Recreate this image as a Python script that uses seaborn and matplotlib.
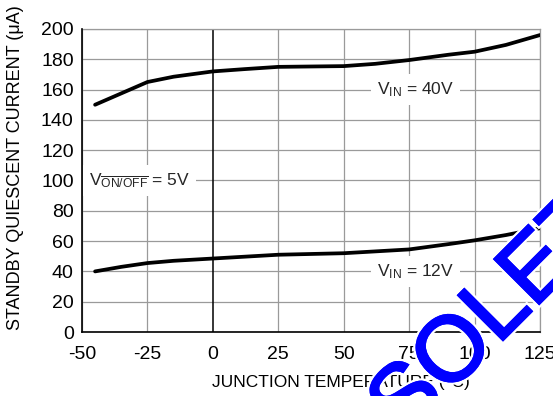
import matplotlib
matplotlib.use("Agg")
import matplotlib.pyplot as plt
import matplotlib.patheffects as pe
from matplotlib.textpath import TextPath
from matplotlib.patches import PathPatch
from matplotlib.font_manager import FontProperties
from matplotlib.transforms import Affine2D
import numpy as np
import seaborn as sns
import pandas as pd

# Data
temp_40v = [-45, -35, -25, -15, 0, 12, 25, 50, 62, 75, 90, 100, 112, 125]
iq_40v = [150, 157.5, 165, 168.5, 172, 173.5, 175, 175.5, 177, 179.5, 183, 185, 189.5, 196]
temp_12v = [-45, -35, -25, -15, 0, 25, 50, 75, 90, 100, 112, 125]
iq_12v = [40, 43, 45.5, 47, 48.5, 51, 52, 54.5, 58, 60.5, 64, 68.5]
x_ticks = [-50, -25, 0, 25, 50, 75, 100, 125]
y_ticks = [0, 20, 40, 60, 80, 100, 120, 140, 160, 180, 200]

sns.set_theme(style="white")
plt.rcParams['font.family'] = ['Liberation Sans', 'DejaVu Sans']
plt.rcParams['mathtext.fontset'] = 'custom'
plt.rcParams['mathtext.rm'] = 'Liberation Sans'
plt.rcParams['mathtext.it'] = 'Liberation Sans'
plt.rcParams['mathtext.bf'] = 'Liberation Sans:bold'
plt.rcParams['axes.unicode_minus'] = False

df = pd.concat([
    pd.DataFrame({"T": temp_40v, "I": iq_40v, "s": "40V"}),
    pd.DataFrame({"T": temp_12v, "I": iq_12v, "s": "12V"}),
])

fig = plt.figure(figsize=(5.53, 3.96), dpi=100)
ax = fig.add_axes([0.1483, 0.1616, 0.8282, 0.7652])

grid_c = "#9a9a9a"
for xv in x_ticks:
    if xv != 0:
        ax.axvline(xv, color=grid_c, lw=0.9, zorder=1)
for yv in y_ticks:
    ax.axhline(yv, color=grid_c, lw=0.9, zorder=1)
ax.axvline(0, color="black", lw=1.1, zorder=2)

sns.lineplot(data=df, x="T", y="I", units="s", estimator=None, color="black",
             lw=2.7, ax=ax, zorder=5, sort=False)

ax.set_xlim(-50, 125)
ax.set_ylim(0, 200)
ax.set_xticks(x_ticks)
ax.set_yticks(y_ticks)
ax.tick_params(axis="x", length=0, labelsize=14, colors="black", pad=10)
ax.tick_params(axis="y", length=0, labelsize=14, colors="black", pad=6)
for s in ["top", "right"]:
    ax.spines[s].set_color(grid_c)
    ax.spines[s].set_linewidth(0.9)
for s in ["left", "bottom"]:
    ax.spines[s].set_color("black")
    ax.spines[s].set_linewidth(1.2)
    ax.spines[s].set_zorder(6)

ax.set_xlabel("")
ax.set_ylabel("")
fig.text(341 / 553, 1 - 382 / 396, "JUNCTION TEMPERATURE (°C)", fontsize=12.5,
         ha="center", va="center", color="black")
fig.text(16 / 553, 1 - 168 / 396, "STANDBY QUIESCENT CURRENT (μA)", fontsize=13,
         ha="center", va="center", rotation=90, color="black")

bbox = dict(boxstyle="square,pad=0.35", fc="white", ec="none")
ax.text(77.5, 160, r"V$_{\mathrm{IN}}$ = 40V", fontsize=12.5, ha="center", va="center",
        bbox=bbox, zorder=4)
ax.text(77.5, 40, r"V$_{\mathrm{IN}}$ = 12V", fontsize=12.5, ha="center", va="center",
        bbox=bbox, zorder=4)
ax.text(-28, 100, r"V$_{\overline{\mathrm{ON/OFF}}}$ = 5V", fontsize=12.5, ha="center",
        va="center", bbox=bbox, zorder=4)

# Watermark placed in pixel space: outer corner of the "L" at (503, 340) from top-left
fp = FontProperties(family="Liberation Sans")
em = 92
tp = TextPath((0, 0), "OBSOLETE", size=em, prop=fp)
ext_obsol = TextPath((0, 0), "OBSOL", size=em, prop=fp).get_extents()
ext_l = TextPath((0, 0), "L", size=em, prop=fp).get_extents()
x_l = ext_obsol.x1 - (ext_l.x1 - ext_l.x0)
H = 396
px, py = 503, H - 340
c = np.cos(np.deg2rad(45))
aff = Affine2D().rotate_deg(45).translate(px - x_l * c, py - x_l * c)
wm = PathPatch(tp, transform=aff, facecolor="#0000ff", edgecolor="#0000ff",
               lw=1.6, zorder=20,
               path_effects=[pe.withStroke(linewidth=5, foreground="white"), pe.Normal()])
fig.add_artist(wm)
wm.set_transform(aff)

fig.savefig("out.png", dpi=100)
